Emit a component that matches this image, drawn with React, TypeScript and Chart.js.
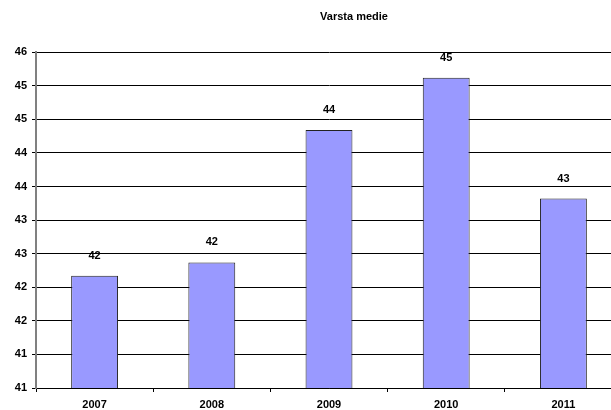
import React, { useEffect, useRef } from "react";
import { Chart, registerables } from "chart.js";

Chart.register(...registerables);

const categories = ["2007", "2008", "2009", "2010", "2011"];
const values = [42.17, 42.37, 44.34, 45.12, 43.32];
const yMin = 40.5;
const yMax = 45.5;
const yStep = 0.5;
const titleText = "Varsta medie";

const FONT = '"Liberation Sans", Arial, sans-serif';

const valueLabels = {
  id: "valueLabels",
  afterDatasetsDraw(chart: any) {
    const ctx = chart.ctx;
    const meta = chart.getDatasetMeta(0);
    ctx.save();
    ctx.font = `bold 11px ${FONT}`;
    ctx.fillStyle = "#000";
    ctx.textAlign = "center";
    ctx.textBaseline = "middle";
    meta.data.forEach((bar: any, i: number) => {
      const v = chart.data.datasets[0].data[i] as number;
      ctx.fillText(String(Math.round(v)), bar.x, bar.y - 20);
    });
    ctx.restore();
  },
};

export default function App() {
  const ref = useRef<HTMLCanvasElement | null>(null);
  useEffect(() => {
    if (!ref.current) return;
    const chart = new Chart(ref.current, {
      type: "bar",
      data: {
        labels: categories,
        datasets: [
          {
            data: values,
            backgroundColor: "#9999FF",
            borderColor: "#222222",
            borderWidth: 1,
            categoryPercentage: 1,
            barPercentage: 0.4,
          },
        ],
      },
      options: {
        responsive: false,
        animation: false,
        devicePixelRatio: 1,
        layout: { padding: { left: 0, right: 0, top: 0, bottom: 0 } },
        plugins: {
          legend: { display: false },
          tooltip: { enabled: false },
          title: {
            display: true,
            text: titleText,
            color: "#000",
            font: { family: FONT, size: 11, weight: "bold" },
            padding: { top: 10, bottom: 29 },
          },
        },
        scales: {
          x: {
            offset: true,
            grid: {
              offset: true,
              drawOnChartArea: false,
              drawTicks: true,
              tickLength: 4,
              color: "#000",
            },
            border: { color: "#000", width: 1 },
            ticks: {
              color: "#000",
              font: { family: FONT, size: 11, weight: "bold" },
              padding: 6,
              maxRotation: 0,
            },
            afterFit(scale: any) {
              scale.height = 22;
            },
          },
          y: {
            min: yMin,
            max: yMax,
            grid: {
              color: "#000",
              lineWidth: 1,
              drawTicks: true,
              tickLength: 4,
            },
            border: { color: "#808080", width: 2 },
            ticks: {
              stepSize: yStep,
              color: "#000",
              font: { family: FONT, size: 11, weight: "bold" },
              padding: 5,
              callback: (v: any) => String(Math.round(Number(v))),
            },
            afterFit(scale: any) {
              scale.width = 36;
            },
          },
          yRight: {
            position: "right",
            min: yMin,
            max: yMax,
            grid: { display: false, drawOnChartArea: false },
            border: { display: false },
            ticks: { display: false },
            afterFit(scale: any) {
              scale.width = 86;
            },
          },
        },
      },
      plugins: [valueLabels],
    });
    return () => chart.destroy();
  }, []);
  return (
    <div
      style={{
        position: "fixed",
        left: 0,
        top: 0,
        width: 611,
        height: 410,
        overflow: "hidden",
        background: "#fff",
      }}
    >
      <canvas ref={ref} width={708} height={410} style={{ display: "block" }} />
    </div>
  );
}
